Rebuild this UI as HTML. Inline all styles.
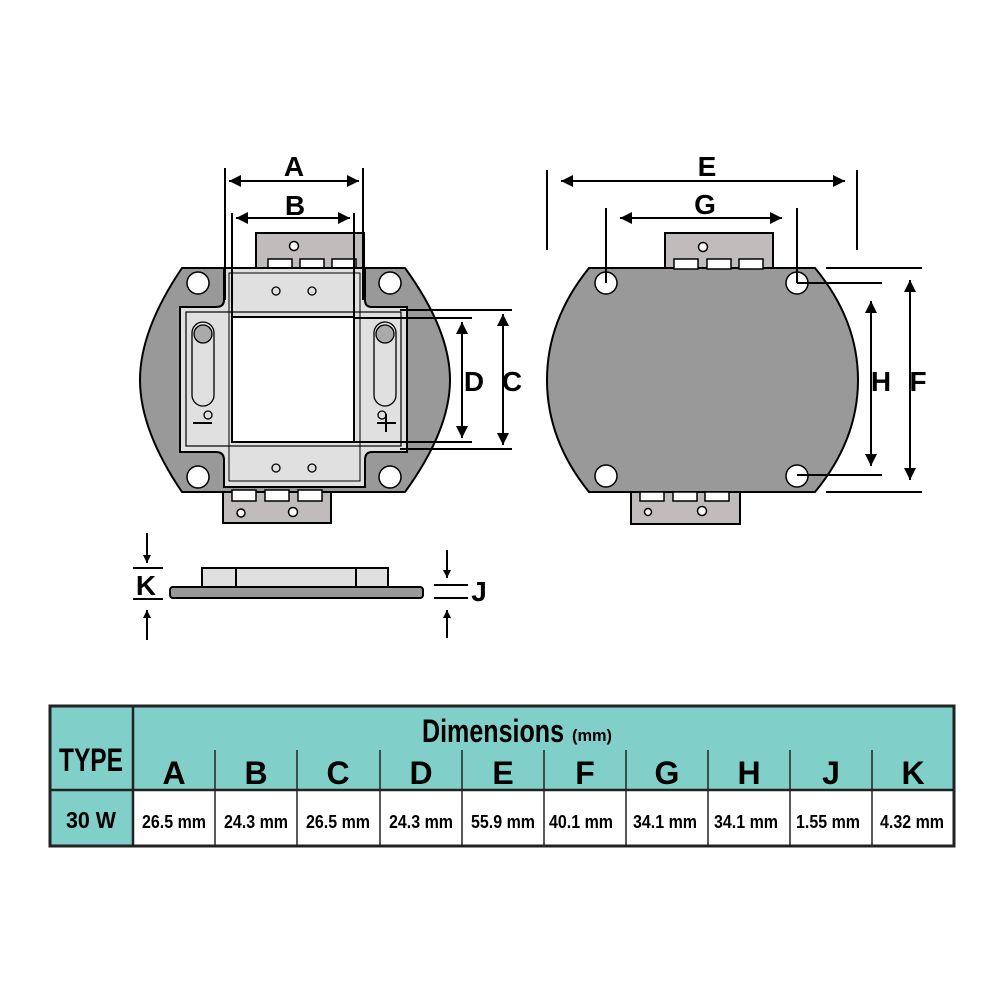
<!DOCTYPE html>
<html><head><meta charset="utf-8"><style>
html,body{margin:0;padding:0;background:#fff;}
svg{display:block;}
text{font-family:"Liberation Sans Narrow","Liberation Sans",sans-serif;font-weight:bold;fill:#000;}
</style></head><body>
<svg width="1000" height="1000" viewBox="0 0 1000 1000" xmlns="http://www.w3.org/2000/svg">
<defs>
<marker id="ar" viewBox="0 0 10 10" refX="10" refY="5" markerWidth="6" markerHeight="6" orient="auto-start-reverse"><path d="M0,0 L10,5 L0,10 z" fill="#000"/></marker>
<marker id="as" viewBox="0 0 10 10" refX="10" refY="5" markerWidth="4" markerHeight="4.5" orient="auto-start-reverse"><path d="M0,0 L10,5 L0,10 z" fill="#000"/></marker>
</defs>

<!-- LEFT VIEW -->
<g stroke="#000" stroke-width="2">
<rect x="256" y="233" width="108" height="40" fill="#c0bcbc"/>
<rect x="223" y="486" width="108" height="37" fill="#c0bcbc"/>
<path d="M182,268 L405,268 Q450,330 450,380 Q450,430 405,492 L182,492 Q140,430 140,380 Q140,330 182,268 Z" fill="#999"/>
</g>
<g stroke="#000" stroke-width="1.5" fill="#fff">
<rect x="268" y="259" width="24" height="10"/><rect x="300" y="259" width="24" height="10"/><rect x="332" y="259" width="24" height="10"/>
<rect x="232" y="490" width="24" height="11"/><rect x="265" y="490" width="24" height="11"/><rect x="298" y="490" width="24" height="11"/>
<circle cx="294" cy="246" r="4.5"/><circle cx="241" cy="513" r="4"/><circle cx="293" cy="512" r="4.5"/>
</g>
<path d="M224,268 L365,268 L365,300 Q365,307 372,307 L407,307 L407,452 L372,452 Q365,452 365,460 L365,487 L224,487 L224,460 Q224,452 216,452 L180,452 L180,307 L216,307 Q224,307 224,300 Z" fill="#e0e0e0" stroke="#000" stroke-width="2"/>
<rect x="186" y="312" width="215" height="134" fill="none" stroke="#000" stroke-width="1.2"/>
<rect x="229" y="273" width="131" height="208" fill="none" stroke="#000" stroke-width="1"/>
<rect x="232" y="317" width="122" height="125" fill="#fff" stroke="#000" stroke-width="2"/>
<g stroke="#000" stroke-width="1.5" fill="#fff">
<circle cx="198" cy="283" r="11"/><circle cx="390" cy="283" r="11"/><circle cx="198" cy="477" r="11"/><circle cx="390" cy="477" r="11"/>
</g>
<g stroke="#000" stroke-width="1.3" fill="#e0e0e0">
<circle cx="276" cy="291" r="4"/><circle cx="312" cy="291" r="4"/><circle cx="276" cy="468" r="4"/><circle cx="312" cy="468" r="4"/>
<rect x="192" y="322" width="22" height="84" rx="11"/><rect x="374" y="322" width="22" height="84" rx="11"/>
<circle cx="203" cy="334" r="9" fill="#aaa"/><circle cx="385" cy="334" r="9" fill="#aaa"/>
<circle cx="208" cy="415" r="4"/><circle cx="382" cy="415" r="4"/>
</g>
<g stroke="#000" stroke-width="2">
<line x1="193" y1="423" x2="212" y2="423"/><line x1="377" y1="423" x2="396" y2="423"/><line x1="386" y1="414" x2="386" y2="432"/>
</g>
<!-- left dims -->
<g stroke="#000" stroke-width="2" fill="none">
<line x1="225" y1="168" x2="225" y2="300"/><line x1="363" y1="168" x2="363" y2="300"/>
<line x1="232" y1="213" x2="232" y2="317"/><line x1="354" y1="213" x2="354" y2="317"/>
<line x1="229" y1="181" x2="359" y2="181" marker-start="url(#ar)" marker-end="url(#ar)"/>
<line x1="236" y1="218" x2="350" y2="218" marker-start="url(#ar)" marker-end="url(#ar)"/>
<line x1="354" y1="318" x2="472" y2="318"/><line x1="354" y1="442" x2="472" y2="442"/>
<line x1="400" y1="310" x2="512" y2="310"/><line x1="400" y1="449" x2="512" y2="449"/>
<line x1="462" y1="322" x2="462" y2="438" marker-start="url(#ar)" marker-end="url(#ar)"/>
<line x1="503" y1="314" x2="503" y2="445" marker-start="url(#ar)" marker-end="url(#ar)"/>
</g>
<g font-size="28" text-anchor="middle">
<text x="294" y="176">A</text>
<text x="295" y="215">B</text>
<text x="474" y="391">D</text>
<text x="512" y="391">C</text>
</g>

<!-- RIGHT VIEW -->
<g stroke="#000" stroke-width="2">
<rect x="665" y="233" width="108" height="40" fill="#c0bcbc"/>
<rect x="631" y="488" width="109" height="36" fill="#c0bcbc"/>
<path d="M589,268 L815,268 Q858,320 858,380 Q858,440 815,492 L589,492 Q547,440 547,380 Q547,320 589,268 Z" fill="#999"/>
</g>
<g stroke="#000" stroke-width="1.5" fill="#fff">
<rect x="674" y="259" width="24" height="10"/><rect x="707" y="259" width="24" height="10"/><rect x="739" y="259" width="24" height="10"/>
<rect x="640" y="492" width="24" height="9"/><rect x="673" y="492" width="24" height="9"/><rect x="705" y="492" width="24" height="9"/>
<circle cx="703" cy="247" r="4.5"/><circle cx="648" cy="512" r="3.5"/><circle cx="702" cy="511" r="4.5"/>
<circle cx="606" cy="283" r="11"/><circle cx="797" cy="283" r="11"/><circle cx="606" cy="476" r="11"/><circle cx="797" cy="476" r="11"/>
</g>
<g stroke="#000" stroke-width="2" fill="none">
<line x1="547" y1="170" x2="547" y2="250"/><line x1="857" y1="170" x2="857" y2="250"/>
<line x1="561" y1="181" x2="845" y2="181" marker-start="url(#ar)" marker-end="url(#ar)"/>
<line x1="606" y1="208" x2="606" y2="283"/><line x1="797" y1="208" x2="797" y2="283"/>
<line x1="620" y1="218" x2="782" y2="218" marker-start="url(#ar)" marker-end="url(#ar)"/>
<line x1="797" y1="283" x2="882" y2="283"/><line x1="797" y1="475" x2="882" y2="475"/>
<line x1="826" y1="268" x2="922" y2="268"/><line x1="826" y1="492" x2="922" y2="492"/>
<line x1="871" y1="301" x2="871" y2="466" marker-start="url(#ar)" marker-end="url(#ar)"/>
<line x1="910" y1="280" x2="910" y2="480" marker-start="url(#ar)" marker-end="url(#ar)"/>
</g>
<g font-size="28" text-anchor="middle">
<text x="707" y="176">E</text>
<text x="705" y="214">G</text>
<text x="881" y="391">H</text>
<text x="918" y="391">F</text>
</g>

<!-- SIDE VIEW -->
<rect x="202" y="568" width="186" height="19" fill="#e0e0e0" stroke="#000" stroke-width="2"/>
<line x1="236" y1="568" x2="236" y2="587" stroke="#000" stroke-width="2"/>
<line x1="356" y1="568" x2="356" y2="587" stroke="#000" stroke-width="2"/>
<rect x="170" y="587" width="253" height="11" rx="3" fill="#999" stroke="#000" stroke-width="2"/>
<g stroke="#000" stroke-width="2" fill="none">
<line x1="147" y1="533" x2="147" y2="563" marker-end="url(#as)"/>
<line x1="133" y1="568" x2="163" y2="568"/><line x1="133" y1="599" x2="163" y2="599"/>
<line x1="147" y1="640" x2="147" y2="610" marker-end="url(#as)"/>
<line x1="447" y1="550" x2="447" y2="578" marker-end="url(#as)"/>
<line x1="434" y1="585" x2="468" y2="585"/><line x1="434" y1="598" x2="468" y2="598"/>
<line x1="447" y1="638" x2="447" y2="610" marker-end="url(#as)"/>
</g>
<g font-size="28" text-anchor="middle">
<text x="146" y="595">K</text>
<text x="479" y="601">J</text>
</g>

<!-- TABLE -->
<rect x="50" y="706" width="904" height="84" fill="#80cfc8"/>
<rect x="50" y="790" width="83" height="56" fill="#80cfc8"/>
<rect x="133" y="790" width="821" height="56" fill="#fff"/>
<g stroke="#222" fill="none">
<rect x="50" y="706" width="904" height="140" stroke-width="3"/>
<line x1="133" y1="706" x2="133" y2="846" stroke-width="2.5"/>
<line x1="50" y1="790" x2="954" y2="790" stroke-width="2.5"/>
<g stroke-width="1.5">
<line x1="215" y1="750" x2="215" y2="846"/><line x1="297" y1="750" x2="297" y2="846"/>
<line x1="380" y1="750" x2="380" y2="846"/><line x1="462" y1="750" x2="462" y2="846"/>
<line x1="544" y1="750" x2="544" y2="846"/><line x1="626" y1="750" x2="626" y2="846"/>
<line x1="708" y1="750" x2="708" y2="846"/><line x1="790" y1="750" x2="790" y2="846"/>
<line x1="872" y1="750" x2="872" y2="846"/>
</g>
</g>
<text x="91" y="771" font-size="32" text-anchor="middle" textLength="64" lengthAdjust="spacingAndGlyphs">TYPE</text>
<text x="422" y="742" font-size="32" textLength="142" lengthAdjust="spacingAndGlyphs">Dimensions</text>
<text x="572" y="741" font-size="17" textLength="40" lengthAdjust="spacingAndGlyphs">(mm)</text>
<g font-size="32" text-anchor="middle">
<text x="174" y="784">A</text><text x="256" y="784">B</text><text x="338" y="784">C</text><text x="421" y="784">D</text><text x="503" y="784">E</text>
<text x="585" y="784">F</text><text x="667" y="784">G</text><text x="749" y="784">H</text><text x="831" y="784">J</text><text x="913" y="784">K</text>
</g>
<text x="91" y="828" font-size="23" text-anchor="middle" textLength="50" lengthAdjust="spacingAndGlyphs">30 W</text>
<g font-size="18" text-anchor="middle">
<text x="174" y="828" textLength="64" lengthAdjust="spacingAndGlyphs">26.5 mm</text>
<text x="256" y="828" textLength="64" lengthAdjust="spacingAndGlyphs">24.3 mm</text>
<text x="338" y="828" textLength="64" lengthAdjust="spacingAndGlyphs">26.5 mm</text>
<text x="421" y="828" textLength="64" lengthAdjust="spacingAndGlyphs">24.3 mm</text>
<text x="503" y="828" textLength="64" lengthAdjust="spacingAndGlyphs">55.9 mm</text>
<text x="581" y="828" textLength="64" lengthAdjust="spacingAndGlyphs">40.1 mm</text>
<text x="665" y="828" textLength="64" lengthAdjust="spacingAndGlyphs">34.1 mm</text>
<text x="746" y="828" textLength="64" lengthAdjust="spacingAndGlyphs">34.1 mm</text>
<text x="828" y="828" textLength="64" lengthAdjust="spacingAndGlyphs">1.55 mm</text>
<text x="912" y="828" textLength="64" lengthAdjust="spacingAndGlyphs">4.32 mm</text>
</g>
</svg>
</body></html>
